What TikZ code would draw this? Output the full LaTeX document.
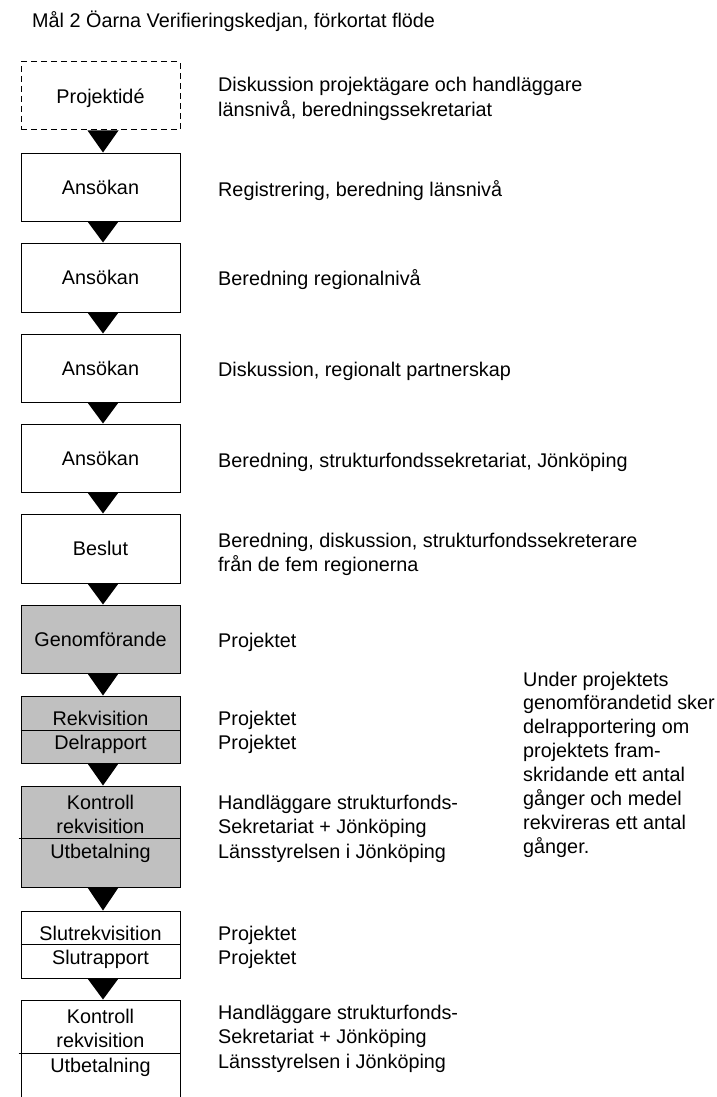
\documentclass[tikz,border=0pt]{standalone}
\usepackage{fontspec}
\setmainfont{Liberation Sans}
\definecolor{stagegray}{RGB}{192,192,192}
\newcommand{\chartfont}{\fontsize{19.8pt}{24.5pt}\selectfont}

\begin{document}
\begin{tikzpicture}[
    x=1pt, y=-1pt,
    font=\chartfont,
    % Styles
    stage/.style={
        draw,
        line width=1pt,
        minimum width=159pt,
        minimum height=68pt,
        inner sep=0pt,
        text height=14.2pt,
        text depth=0pt
    },
    stage_idea/.style={stage, dash pattern=on 6pt off 4pt},
    stage_gray/.style={stage, fill=stagegray},
    stage_line/.style={anchor=base, align=center, inner sep=0pt},
    desc/.style={anchor=base west, align=left, inner sep=0pt},
    divider/.style={line width=1pt},
    flow_tip/.style={fill=black}
]
    \clip (0,0) rectangle (716,1097);

    % --- Title ---
    \node[anchor=base west, inner sep=0pt] (title) at (32,28) {Mål 2 Öarna Verifieringskedjan, förkortat flöde};

    % --- CHAIN OF STAGES ---
    \node[stage_idea] (b1) at (100.5,96) {Projektidé};
    \node[stage] (b2) at (100.5,187) {Ansökan};
    \node[stage, minimum height=69pt] (b3) at (100.5,277.5) {Ansökan};
    \node[stage] (b4) at (100.5,368) {Ansökan};
    \node[stage] (b5) at (100.5,458) {Ansökan};
    \node[stage, minimum height=69pt] (b6) at (100.5,548.5) {Beslut};
    \node[stage_gray] (b7) at (100.5,639) {Genomförande};

    % Split stages (multi-line text sits on its last baseline)
    \node[stage_gray, minimum height=67pt] (b8) at (100.5,729.5) {};
    \draw[divider] (b8.west |- 0,730) -- (b8.east |- 0,730);
    \node[stage_line] (b8t) at (b8 |- 0,749.5) {Rekvisition\\Delrapport};

    \node[stage_gray, minimum height=101pt] (b9) at (100.5,836.5) {};
    \draw[divider] ([xshift=-2pt]b9.west |- 0,838) -- (b9.east |- 0,838);
    \node[stage_line] (b9t) at (b9 |- 0,858) {Kontroll\\rekvisition\\Utbetalning};

    \node[stage, minimum height=67pt] (b10) at (100.5,944.5) {};
    \draw[divider] (b10.west |- 0,944) -- (b10.east |- 0,944);
    \node[stage_line] (b10t) at (b10 |- 0,964.5) {Slutrekvisition\\Slutrapport};

    \node[stage, minimum height=110pt] (b11) at (100.5,1055) {};
    \draw[divider] ([xshift=-2pt]b11.west |- 0,1053) -- (b11.east |- 0,1053);
    \node[stage_line] (b11t) at (b11 |- 0,1072) {Kontroll\\rekvisition\\Utbetalning};

    % --- FLOW TIPS ---
    \foreach \a/\b in {b1/b2, b2/b3, b3/b4, b4/b5, b5/b6, b6/b7, b7/b8, b8/b9, b9/b10, b10/b11}
        \fill[flow_tip] ([xshift=-13pt]\a.south) -- ([xshift=18pt]\a.south) -- ([xshift=2.5pt]\b.north) -- cycle;

    % --- DESCRIPTIONS ---
    \node[desc] (d1) at (218,116.5) {Diskussion projektägare och handläggare\\länsnivå, beredningssekretariat};
    \node[desc] (d2) at (218,196) {Registrering, beredning länsnivå};
    \node[desc] (d3) at (218,285) {Beredning regionalnivå};
    \node[desc] (d4) at (218,376) {Diskussion, regionalt partnerskap};
    \node[desc] (d5) at (218,467) {Beredning, strukturfondssekretariat, Jönköping};
    \node[desc] (d6) at (218,571.5) {Beredning, diskussion, strukturfondssekreterare\\från de fem regionerna};
    \node[desc] (d7) at (218,647) {Projektet};
    \node[desc] (d8) at (218,749.5) {Projektet\\Projektet};
    \node[desc] (d9) at (218,858) {Handläggare strukturfonds-\\Sekretariat + Jönköping\\Länsstyrelsen i Jönköping};
    \node[desc] (d10) at (218,964.5) {Projektet\\Projektet};
    \node[desc] (d11) at (218,1068) {Handläggare strukturfonds-\\Sekretariat + Jönköping\\Länsstyrelsen i Jönköping};

    % Side note
    \node[desc, font=\fontsize{19.8pt}{23.9pt}\selectfont] (note) at (523,853.3) {Under projektets\\genomförandetid sker\\delrapportering om\\projektets fram-\\skridande ett antal\\gånger och medel\\rekvireras ett antal\\gånger.};

\end{tikzpicture}
\end{document}
